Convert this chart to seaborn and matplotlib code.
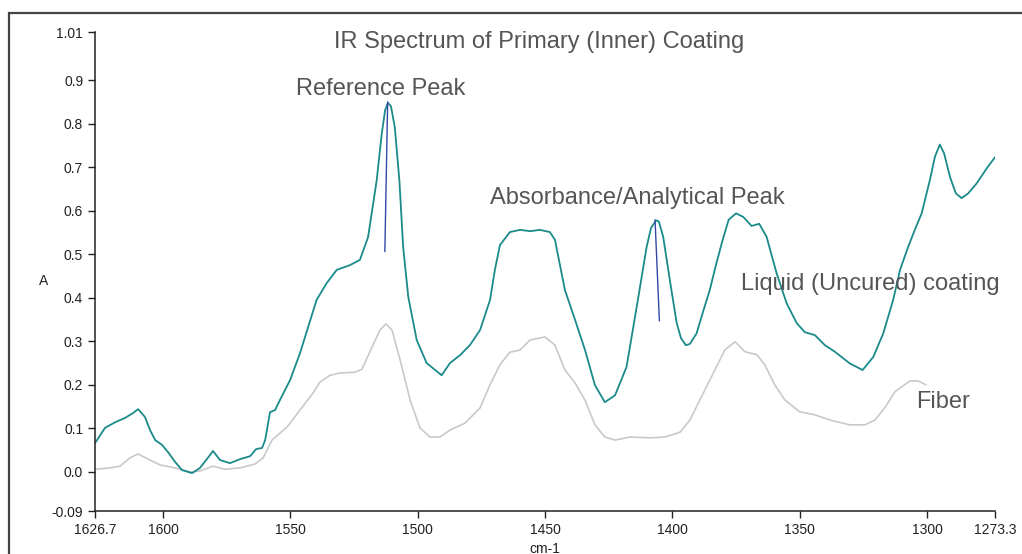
import pandas as pd
import matplotlib.pyplot as plt
import matplotlib.patches as patches
import seaborn as sns

# IR spectrum values (wavenumber cm-1, absorbance)
coating_wn = [1626.7, 1622.8, 1618.8, 1614.9, 1611.8, 1609.8, 1607.1, 1605.1, 1603.1, 1600.4,
              1598.0, 1595.3, 1592.5, 1588.6, 1585.5, 1581.5, 1580.4, 1577.6, 1573.7, 1569.8,
              1565.8, 1563.5, 1561.1, 1559.9, 1558.0, 1556.0, 1554.1, 1550.1, 1546.2, 1539.7,
              1535.7, 1531.8, 1526.6, 1522.7, 1519.5, 1516.1, 1514.1, 1512.8, 1511.7, 1510.5,
              1509.0, 1507.2, 1505.7, 1503.7, 1500.4, 1496.5, 1490.6, 1487.3, 1483.4, 1479.5,
              1475.5, 1471.6, 1469.7, 1467.7, 1463.8, 1459.8, 1455.9, 1452.0, 1448.1, 1446.1,
              1442.2, 1438.2, 1434.3, 1430.4, 1426.5, 1422.5, 1418.0, 1414.0, 1410.1, 1408.4,
              1406.4, 1405.3, 1403.6, 1401.0, 1398.3, 1396.6, 1394.7, 1393.1, 1390.5, 1388.0,
              1385.3, 1382.9, 1380.3, 1377.9, 1375.0, 1372.2, 1368.9, 1365.9, 1363.0, 1359.1,
              1355.1, 1351.2, 1348.0, 1344.0, 1340.1, 1336.2, 1330.3, 1325.3, 1321.1, 1317.2,
              1313.3, 1310.6, 1307.4, 1304.8, 1302.1, 1298.9, 1296.9, 1295.0, 1293.3, 1291.0,
              1288.7, 1286.4, 1283.8, 1280.5, 1276.6, 1273.3]
coating_abs = [0.066, 0.101, 0.114, 0.124, 0.135, 0.144, 0.126, 0.096, 0.073, 0.062,
               0.045, 0.023, 0.004, -0.003, 0.009, 0.039, 0.048, 0.027, 0.020, 0.029,
               0.036, 0.052, 0.055, 0.073, 0.137, 0.142, 0.165, 0.211, 0.273, 0.395,
               0.434, 0.464, 0.475, 0.487, 0.539, 0.670, 0.778, 0.831, 0.848, 0.840,
               0.792, 0.670, 0.516, 0.402, 0.303, 0.250, 0.222, 0.250, 0.268, 0.291,
               0.326, 0.395, 0.464, 0.521, 0.551, 0.556, 0.553, 0.556, 0.551, 0.533,
               0.418, 0.349, 0.280, 0.199, 0.160, 0.176, 0.241, 0.379, 0.517, 0.560,
               0.578, 0.575, 0.540, 0.441, 0.342, 0.307, 0.291, 0.294, 0.318, 0.367,
               0.418, 0.475, 0.532, 0.579, 0.594, 0.586, 0.565, 0.570, 0.540, 0.457,
               0.387, 0.342, 0.321, 0.314, 0.291, 0.276, 0.249, 0.234, 0.264, 0.318,
               0.395, 0.464, 0.517, 0.556, 0.594, 0.670, 0.724, 0.752, 0.732, 0.678,
               0.640, 0.629, 0.640, 0.663, 0.697, 0.723]

fiber_wn = [1626.7, 1620.8, 1616.9, 1613.0, 1609.8, 1605.1, 1601.2, 1595.3, 1589.4, 1585.5,
            1580.4, 1575.7, 1569.8, 1563.9, 1560.7, 1557.2, 1551.3, 1546.2, 1541.1, 1538.4,
            1534.4, 1530.5, 1524.6, 1521.9, 1517.9, 1514.8, 1512.5, 1510.1, 1506.9, 1503.0,
            1499.1, 1495.2, 1491.2, 1487.3, 1481.4, 1475.5, 1471.6, 1467.7, 1463.8, 1459.8,
            1455.9, 1450.0, 1446.1, 1442.2, 1438.2, 1434.3, 1430.4, 1426.5, 1422.5, 1416.6,
            1408.8, 1402.9, 1397.0, 1393.1, 1389.2, 1383.3, 1379.4, 1375.4, 1371.5, 1366.8,
            1363.7, 1359.8, 1355.8, 1350.0, 1344.0, 1338.1, 1330.3, 1324.4, 1320.5, 1316.6,
            1312.6, 1306.7, 1303.6, 1300.4]
fiber_abs = [0.006, 0.009, 0.013, 0.032, 0.041, 0.027, 0.016, 0.009, 0.000, 0.002,
             0.013, 0.006, 0.009, 0.018, 0.032, 0.073, 0.103, 0.142, 0.181, 0.206,
             0.222, 0.227, 0.229, 0.236, 0.287, 0.326, 0.340, 0.326, 0.257, 0.165,
             0.101, 0.080, 0.080, 0.096, 0.112, 0.147, 0.200, 0.246, 0.275, 0.280,
             0.303, 0.310, 0.291, 0.234, 0.204, 0.165, 0.108, 0.080, 0.073, 0.080,
             0.078, 0.080, 0.091, 0.119, 0.165, 0.234, 0.280, 0.299, 0.276, 0.269,
             0.246, 0.200, 0.165, 0.138, 0.131, 0.119, 0.108, 0.108, 0.119, 0.147,
             0.184, 0.209, 0.209, 0.200]

# peak marker lines
ref_peak_wn = [1511.8, 1512.9]
ref_peak_abs = [0.850, 0.506]
ana_peak_wn = [1406.8, 1405.1]
ana_peak_abs = [0.579, 0.347]

x_ticks = [1626.7, 1600, 1550, 1500, 1450, 1400, 1350, 1300, 1273.3]
x_labels = ["1626.7", "1600", "1550", "1500", "1450", "1400", "1350", "1300", "1273.3"]
y_ticks = [-0.09, 0.0, 0.1, 0.2, 0.3, 0.4, 0.5, 0.6, 0.7, 0.8, 0.9, 1.01]
y_labels = ["-0.09", "0.0", "0.1", "0.2", "0.3", "0.4", "0.5", "0.6", "0.7", "0.8", "0.9", "1.01"]

coating = pd.DataFrame({"wn": coating_wn, "A": coating_abs})
fiber = pd.DataFrame({"wn": fiber_wn, "A": fiber_abs})

sns.set_style("white")
plt.rcParams["font.family"] = ["Liberation Sans", "DejaVu Sans"]

fig = plt.figure(figsize=(10.22, 5.54), dpi=100)
ax = fig.add_axes([0.093, 0.0776, 0.8806, 0.8641])

sns.lineplot(data=fiber, x="wn", y="A", sort=False, color="#c9c9c9", linewidth=1.2, ax=ax)
sns.lineplot(data=coating, x="wn", y="A", sort=False, color="#1a8a8a", linewidth=1.3, ax=ax)
ax.plot(ref_peak_wn, ref_peak_abs, color="#3347a3", linewidth=1.0)
ax.plot(ana_peak_wn, ana_peak_abs, color="#3347a3", linewidth=1.0)

ax.set_xlim(1626.7, 1273.3)
ax.set_ylim(-0.09, 1.01)
ax.set_xticks(x_ticks)
ax.set_xticklabels(x_labels)
ax.set_yticks(y_ticks)
ax.set_yticklabels(y_labels)
ax.set_xlabel("")
ax.set_ylabel("")
ax.tick_params(axis="both", direction="out", length=5, width=1, color="#222222",
               labelsize=10, labelcolor="#222222", left=True, bottom=True)

for side in ["top", "right"]:
    ax.spines[side].set_visible(False)
for side in ["left", "bottom"]:
    ax.spines[side].set_color("#222222")
    ax.spines[side].set_linewidth(1.1)

# annotations
txt = dict(color="#555555", fontsize=17, ha="center", va="center")
ax.text(1452.4, 0.988, "IR Spectrum of Primary (Inner) Coating", **txt)
ax.text(1514.4, 0.879, "Reference Peak", **txt)
ax.text(1413.9, 0.629, "Absorbance/Analytical Peak", **txt)
ax.text(1322.4, 0.431, "Liquid (Uncured) coating", **txt)
ax.text(1293.8, 0.161, "Fiber", **txt)

fig.text(44 / 1022, 1 - 281 / 554, "A", fontsize=10, color="#222222", ha="center", va="center")
fig.text(545 / 1022, 1 - 549 / 554, "cm-1", fontsize=10, color="#222222", ha="center", va="center")

# outer frame
frame = patches.Rectangle((9 / 1022, -0.2), 1.2, 1.2 - 13.5 / 554, transform=fig.transFigure,
                          fill=False, edgecolor="#444444", linewidth=1.6, clip_on=False)
fig.patches.append(frame)

fig.savefig("out.png", dpi=100)
